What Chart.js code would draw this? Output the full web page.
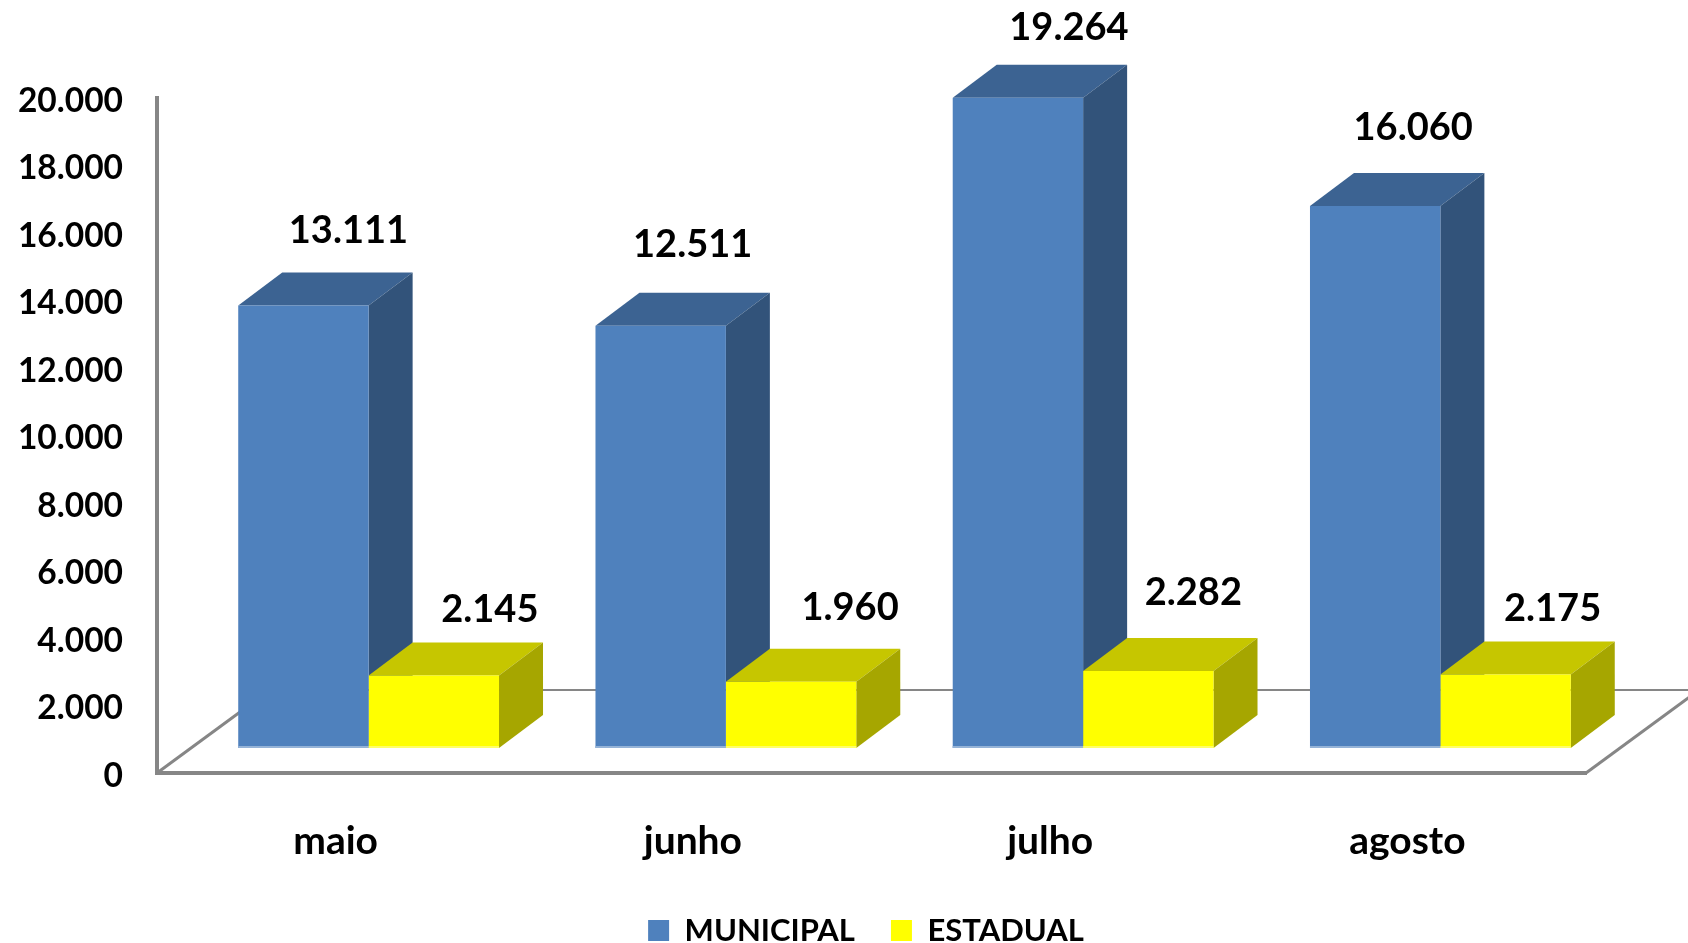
<!DOCTYPE html>
<html>
<head>
<meta charset="utf-8">
<style>
  html, body { margin: 0; padding: 0; background: #fff; }
  #wrap { width: 1688px; height: 943px; }
</style>
<script src="https://cdn.jsdelivr.net/npm/chart.js@4"></script>
</head>
<body>
<div id="wrap"><canvas id="chart" width="1688" height="943"></canvas></div>
<script>
const categories = ['maio', 'junho', 'julho', 'agosto'];
const municipal = [13111, 12511, 19264, 16060];
const estadual = [2145, 1960, 2282, 2175];
const seriesNames = ['MUNICIPAL', 'ESTADUAL'];

// hand placed value labels, offset from the top centre of each bar front
const labelNudge = [
  [[45, -75], [32, -81], [51, -70], [38, -78]],
  [[56, -66], [59, -74], [45, -78], [47, -66]]
];

const FONT = 'Lato, Carlito, Calibri, sans-serif';
const GREY = '#868686';
const colors = [
  { front: '#4F81BD', top: '#3C6392', side: '#32537A', base: '#95B3D7' },
  { front: '#FFFF00', top: '#C6C600', side: '#A6A600', base: '#FFFF66' }
];
const bars3d = { shiftX: 33, shiftY: -25, depthX: 44, depthY: 33 };
const floor3d = { dx: 113, dy: 83 };

const fmt = v => String(v).replace(/\B(?=(\d{3})+$)/g, '.');

function poly(ctx, pts, fill) {
  ctx.fillStyle = fill;
  ctx.beginPath();
  pts.forEach((p, i) => i ? ctx.lineTo(p[0], p[1]) : ctx.moveTo(p[0], p[1]));
  ctx.closePath();
  ctx.fill();
}

function line(ctx, x1, y1, x2, y2, w) {
  ctx.strokeStyle = GREY;
  ctx.lineWidth = w;
  ctx.beginPath();
  ctx.moveTo(x1, y1);
  ctx.lineTo(x2, y2);
  ctx.stroke();
}

const fake3d = {
  id: 'fake3d',
  afterLayout(chart) {
    // legend sits centred on the plot floor, and low on the page
    chart.legend.left += 73;
    chart.legend.right += 73;
    chart.legend.top += 13;
    chart.legend.bottom += 13;
  },
  beforeDatasetsDraw(chart) {
    const ctx = chart.ctx;
    const a = chart.chartArea;
    // floor
    line(ctx, a.left, a.bottom, a.left + floor3d.dx, a.bottom - floor3d.dy, 3);
    line(ctx, a.right, a.bottom, a.right + floor3d.dx, a.bottom - floor3d.dy, 3);
    line(ctx, a.left + floor3d.dx, a.bottom - floor3d.dy, a.right + floor3d.dx, a.bottom - floor3d.dy, 2);

    ctx.save();
    ctx.translate(bars3d.shiftX, bars3d.shiftY);
    const dx = bars3d.depthX, dy = bars3d.depthY;
    [0, 1].forEach(d => {
      chart.getDatasetMeta(d).data.forEach(bar => {
        const l = bar.x - bar.width / 2, r = bar.x + bar.width / 2;
        poly(ctx, [[l, bar.y], [l + dx, bar.y - dy], [r + dx, bar.y - dy], [r, bar.y]], colors[d].top);
        poly(ctx, [[r, bar.y], [r + dx, bar.y - dy], [r + dx, bar.base - dy], [r, bar.base]], colors[d].side);
      });
    });
  },
  afterDatasetsDraw(chart) {
    const ctx = chart.ctx;
    [0, 1].forEach(d => {
      chart.getDatasetMeta(d).data.forEach(bar => {
        ctx.fillStyle = colors[d].base;
        ctx.fillRect(bar.x - bar.width / 2, bar.base - 2, bar.width, 2);
      });
    });
    ctx.restore();

    ctx.fillStyle = '#000';
    ctx.font = 'bold 38px ' + FONT;
    ctx.textAlign = 'center';
    ctx.textBaseline = 'middle';
    [0, 1].forEach(d => {
      chart.getDatasetMeta(d).data.forEach((bar, i) => {
        const n = labelNudge[d][i];
        ctx.fillText(fmt(chart.data.datasets[d].data[i]), bar.x + bars3d.shiftX + n[0], bar.y + bars3d.shiftY + n[1]);
      });
    });
  }
};

new Chart(document.getElementById('chart').getContext('2d'), {
  type: 'bar',
  data: {
    labels: categories,
    datasets: [
      { label: seriesNames[0], data: municipal, backgroundColor: colors[0].front },
      { label: seriesNames[1], data: estadual, backgroundColor: colors[1].front }
    ]
  },
  plugins: [fake3d],
  options: {
    responsive: false,
    animation: false,
    categoryPercentage: 0.73,
    barPercentage: 1,
    layout: { padding: { top: 98, right: 102, left: 0, bottom: 0 } },
    plugins: {
      tooltip: { enabled: false },
      legend: {
        position: 'bottom',
        labels: {
          boxWidth: 21,
          boxHeight: 21,
          padding: 36,
          color: '#000',
          font: { family: FONT, size: 31, weight: 'bold' }
        }
      }
    },
    scales: {
      x: {
        grid: { display: false, drawTicks: false },
        border: { color: GREY, width: 4 },
        ticks: { color: '#000', padding: 45, font: { family: FONT, size: 39, weight: 'bold' } },
        afterFit(s) { s.height = 93; }
      },
      y: {
        min: 0,
        max: 20000,
        grid: { display: false, drawTicks: false },
        border: { color: GREY, width: 4 },
        ticks: {
          stepSize: 2000,
          color: '#000',
          padding: 34,
          labelOffset: 3,
          font: { family: FONT, size: 33.5, weight: 'bold' },
          callback: v => fmt(v)
        },
        afterFit(s) { s.width = 157; }
      }
    }
  }
});
</script>
</body>
</html>
